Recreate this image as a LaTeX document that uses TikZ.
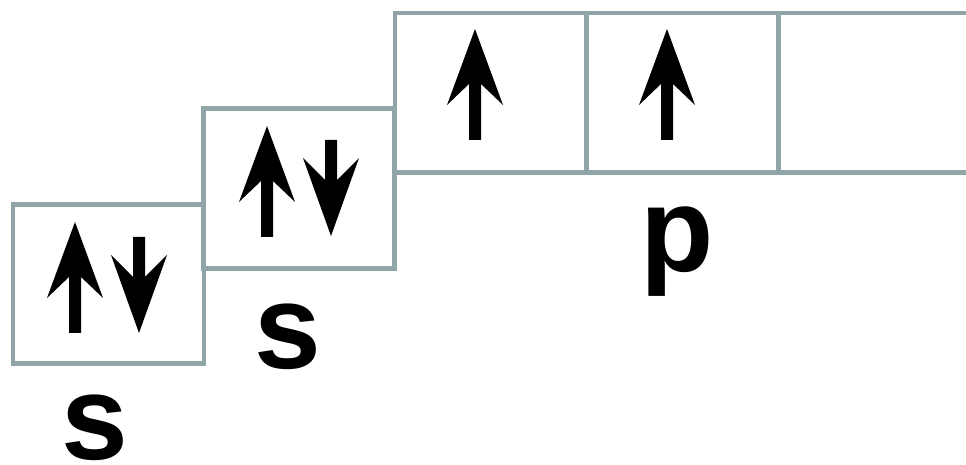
\documentclass[tikz,border=0pt]{standalone}
\usepackage{fontspec}
\setmainfont{Liberation Sans}
\definecolor{boxc}{HTML}{8FA5A8}
\begin{document}
\begin{tikzpicture}[x=1bp,y=-1bp,
  orb/.style={draw=boxc, line width=4.7bp, minimum width=191bp, minimum height=159.5bp, inner sep=0pt, outer sep=0pt},
  lbl/.style={font=\fontsize{120bp}{130bp}\selectfont\bfseries, anchor=base, inner sep=0pt},
  upspin/.pic={\fill (0,0) -- (28,76) -- (6,55) -- (6,111) -- (-6,111) -- (-6,55) -- (-28,76) -- cycle;},
  downspin/.pic={\fill (0,0) -- (28,-78) -- (6,-56) -- (6,-96) -- (-6,-96) -- (-6,-56) -- (-28,-78) -- cycle;}
]
\useasboundingbox (0,0) rectangle (966,465);
\clip (0,0) rectangle (966,465);
% boxes
\node[orb] (b1) at (108.5,284) {};
\node[orb] (b2) at (299,188.5) {};
\node[orb] (b3) at (490.5,92.7) {};
\node[orb] (b4) at (682.5,92.7) {};
\node[orb, minimum width=240bp] (b5) at (898.5,92.7) {};
% electrons
\pic at (75,222) {upspin};
\pic at (139,333) {downspin};
\pic at (267,126) {upspin};
\pic at (331,236) {downspin};
\pic at (475,29) {upspin};
\pic at (667,29) {upspin};
% labels
\node[lbl] (l1) at (95,459.5) {s};
\node[lbl] (l2) at (287.5,369) {s};
\node[lbl] (l3) at (677,272) {p};
\end{tikzpicture}
\end{document}
